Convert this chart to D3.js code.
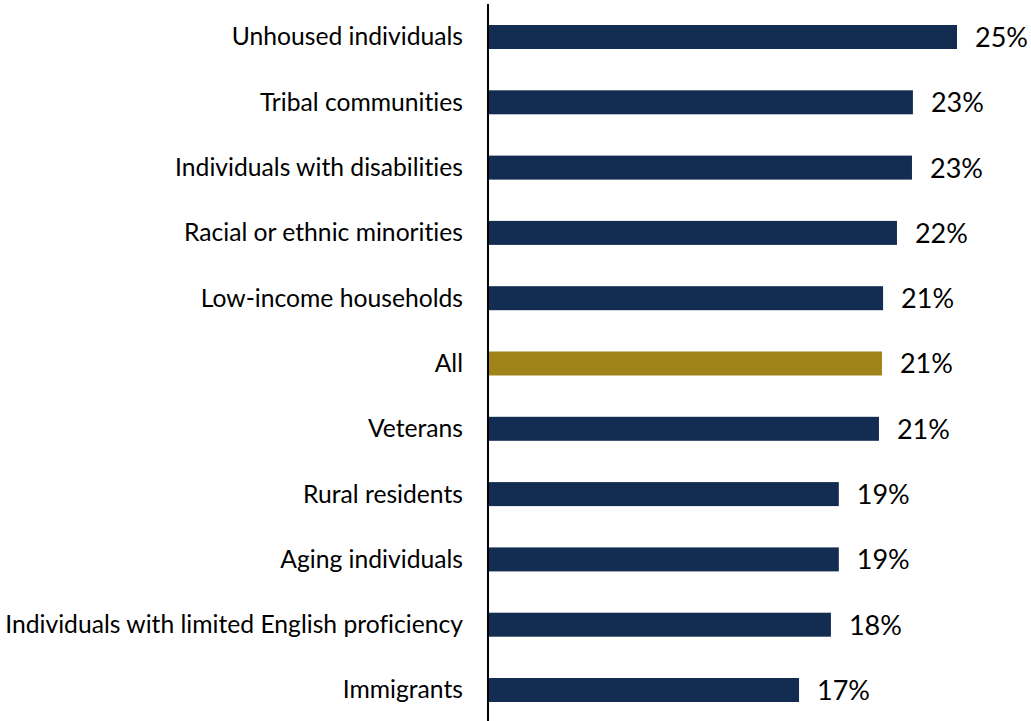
<!DOCTYPE html>
<html>
<head>
<meta charset="utf-8">
<script src="https://cdn.jsdelivr.net/npm/d3@7"></script>
<style>
  html, body { margin: 0; padding: 0; background: #ffffff; }
  svg { display: block; }
  text { font-variant-ligatures: none; font-feature-settings: "liga" 0, "clig" 0; }
</style>
</head>
<body>
<script>
const categories = [
  "Unhoused individuals",
  "Tribal communities",
  "Individuals with disabilities",
  "Racial or ethnic minorities",
  "Low-income households",
  "All",
  "Veterans",
  "Rural residents",
  "Aging individuals",
  "Individuals with limited English proficiency",
  "Immigrants"
];
const values = [25.0, 22.65, 22.6, 21.8, 21.06, 21.0, 20.84, 18.7, 18.7, 18.28, 16.58];
const highlight = ["All"];

const W = 1031, H = 721;
const navy = "#132d52", gold = "#a0841a";
const fontFamily = "Lato, 'Open Sans', 'Noto Sans', sans-serif";

const svg = d3.select("body").append("svg").attr("width", W).attr("height", H);

const x = d3.scaleLinear().domain([0, 25]).range([488, 957]);
const y = d3.scalePoint().domain(categories).range([4.35, 722.65]).padding(0.5);
const barH = 24;

// bars
svg.append("g").selectAll("rect")
  .data(categories)
  .join("rect")
  .attr("x", x(0))
  .attr("y", d => y(d) - barH / 2)
  .attr("width", (d, i) => x(values[i]) - x(0))
  .attr("height", barH)
  .attr("fill", d => highlight.includes(d) ? gold : navy);

// category axis (labels only, no ticks)
const axisG = svg.append("g")
  .attr("transform", `translate(${x(0)},0)`)
  .call(d3.axisLeft(y).tickSize(0).tickPadding(25));
axisG.select(".domain").remove();
const catText = axisG.selectAll("text")
  .attr("fill", "#000")
  .attr("font-family", fontFamily)
  .attr("font-size", 24);

// fit category font to reference width of the longest label
let longest = 0;
catText.each(function () { longest = Math.max(longest, this.getComputedTextLength()); });
const catSize = 24 * 458 / longest;
catText.attr("font-size", catSize);

// vertical axis line
svg.append("line")
  .attr("x1", x(0)).attr("x2", x(0))
  .attr("y1", 4).attr("y2", H)
  .attr("stroke", "#000").attr("stroke-width", 2);

// value labels
const valText = svg.append("g").selectAll("text")
  .data(categories)
  .join("text")
  .attr("x", (d, i) => x(values[i]) + 18)
  .attr("y", d => y(d))
  .attr("dy", "0.37em")
  .attr("font-family", fontFamily)
  .attr("font-size", 26)
  .attr("fill", "#000")
  .text((d, i) => Math.round(values[i]) + "%");
const w0 = valText.node().getComputedTextLength();
valText.attr("font-size", 26 * 53 / w0);
</script>
</body>
</html>
